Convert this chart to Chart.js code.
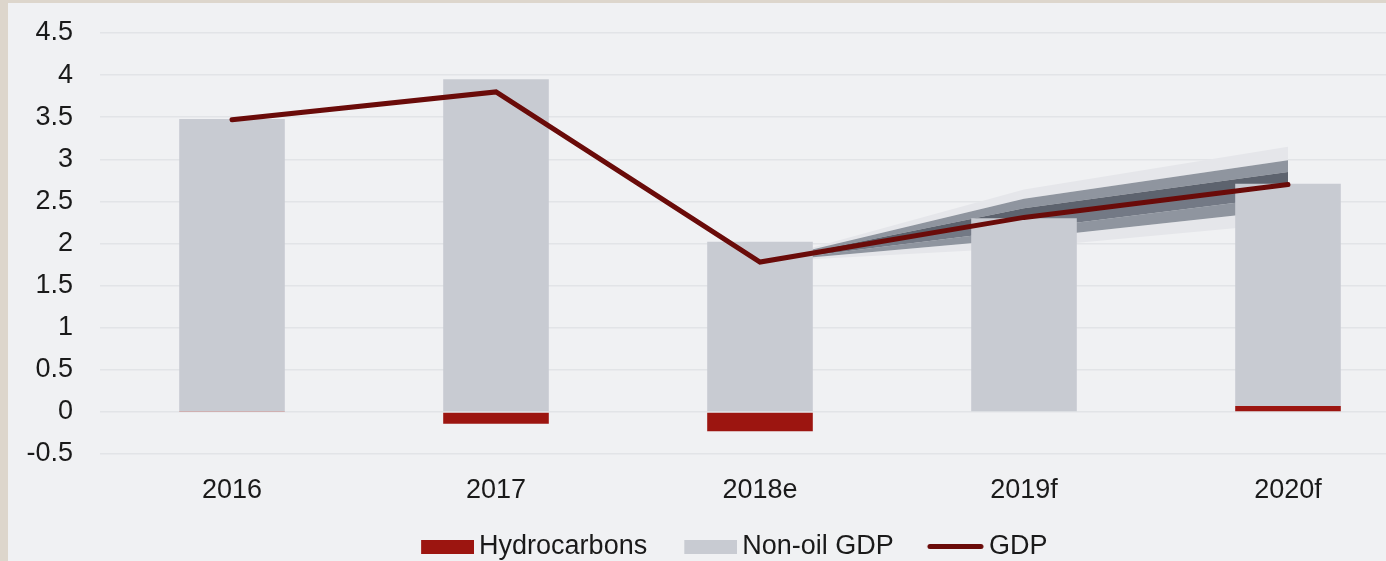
<!DOCTYPE html>
<html><head><meta charset="utf-8">
<script src="https://cdn.jsdelivr.net/npm/chart.js@4"></script>
<style>
html,body{margin:0;padding:0;background:#f0f1f3;overflow:hidden;width:1386px;height:561px;}
#wrap{position:absolute;left:0;top:0;width:1440px;height:570px;}
.strip-l{position:absolute;left:0;top:0;width:8px;height:561px;background:#ddd6cc;z-index:2}
.strip-t{position:absolute;left:0;top:0;width:1386px;height:3px;background:#ddd6cc;z-index:2}
</style></head><body>
<div id="wrap"><canvas id="c" width="1440" height="570"></canvas></div>
<div class="strip-l"></div><div class="strip-t"></div>
<script>
const categories = ['2016', '2017', '2018e', '2019f', '2020f'];
const hydrocarbons = [0.01, -0.14, -0.23, 0, 0.07];
const nonOilGdp = [3.47, 3.95, 2.02, 2.30, 2.64];
const gdp = [3.47, 3.80, 1.78, 2.31, 2.70];
const fanUpper3 = [null, null, 1.78, 2.64, 3.15];
const fanUpper2 = [null, null, 1.78, 2.53, 2.99];
const fanUpper1 = [null, null, 1.78, 2.42, 2.85];
const fanCentral = [null, null, 1.78, 2.31, 2.70];
const fanLower1 = [null, null, 1.78, 2.17, 2.56];
const fanLower2 = [null, null, 1.78, 2.06, 2.40];
const fanLower3 = [null, null, 1.78, 1.95, 2.24];
const yMin = -0.5, yMax = 4.5, yStep = 0.5;
const seriesNames = ['Hydrocarbons', 'Non-oil GDP', 'GDP'];

const C = {
  hydro: '#9c1510', nonoil: '#c8cbd2', gdp: '#6a0b09',
  light: '#e5e6ea', mid: '#8f959f', dark: '#5d636e', darkLow: '#737985',
  grid: '#e2e4e7', text: '#1a1a1a'
};
const FONT = 'Liberation Sans, Arial, Helvetica, sans-serif';

// legend swatches: 72px wide canvases, visible mark right-aligned
function swatchRect(color) {
  const c = document.createElement('canvas'); c.width = 72; c.height = 14;
  const x = c.getContext('2d'); x.fillStyle = color; x.fillRect(72 - 53, 0, 53, 14); return c;
}
function swatchLine(color) {
  const c = document.createElement('canvas'); c.width = 72; c.height = 7;
  const x = c.getContext('2d'); x.strokeStyle = color; x.lineWidth = 5; x.lineCap = 'round';
  x.beginPath(); x.moveTo(72 - 57 + 3, 3.5); x.lineTo(72 - 3, 3.5); x.stroke(); return c;
}
const swatches = [swatchRect(C.hydro), swatchRect(C.nonoil), swatchLine(C.gdp)];

let fanId = 0;
function fanDs(data, fillTarget, color) {
  return { type: 'line', data, order: 10, stack: 'fan' + (fanId++),
    borderWidth: 0, pointRadius: 0, tension: 0, backgroundColor: color,
    fill: fillTarget === null ? false : { target: fillTarget } };
}

const legendShift = {
  id: 'legendShift',
  afterLayout(chart) { if (chart.legend) { chart.legend.left += 19; chart.legend.right += 19; } }
};

new Chart(document.getElementById('c'), {
  data: {
    labels: categories,
    datasets: [
      { type: 'bar', label: seriesNames[0], data: hydrocarbons, backgroundColor: C.hydro, stack: 'bars', order: 5,
        barPercentage: 0.4, categoryPercentage: 1.0 },
      { type: 'bar', label: seriesNames[1], data: nonOilGdp, backgroundColor: C.nonoil, stack: 'bars', order: 5,
        barPercentage: 0.4, categoryPercentage: 1.0 },
      { type: 'line', label: seriesNames[2], data: gdp, borderColor: C.gdp, backgroundColor: C.gdp, borderWidth: 5,
        pointRadius: 0, tension: 0, stack: 'gdpline', order: 0, borderCapStyle: 'round', fill: false },
      fanDs(fanCentral, null, 'transparent'),
      fanDs(fanUpper1, 3, C.dark),
      fanDs(fanUpper2, 4, C.mid),
      fanDs(fanUpper3, 5, C.light),
      fanDs(fanLower1, 3, C.darkLow),
      fanDs(fanLower2, 7, C.mid),
      fanDs(fanLower3, 8, C.light)
    ]
  },
  plugins: [legendShift],
  options: {
    responsive: false, animation: false, devicePixelRatio: 1,
    layout: { padding: { left: 0, right: 20, top: 33, bottom: 0 } },
    scales: {
      x: { stacked: true, offset: true,
        grid: { display: false, drawTicks: false }, border: { display: false },
        ticks: { padding: 20, color: C.text, font: { family: FONT, size: 27 } },
        afterFit(s) { s.height = 52.4; } },
      y: { stacked: true, min: yMin, max: yMax,
        grid: { color: C.grid, lineWidth: 1.5, drawTicks: true, tickLength: 27, tickColor: 'rgba(0,0,0,0)' },
        border: { display: false },
        ticks: { stepSize: yStep, padding: 0, color: C.text, font: { family: FONT, size: 27 },
          callback: v => String(Math.round(v * 10) / 10) },
        afterFit(s) { s.width = 100; } }
    },
    plugins: {
      tooltip: { enabled: false },
      legend: { position: 'bottom',
        labels: { usePointStyle: true, pointStyleWidth: 55, boxHeight: 14, padding: 26.6,
          color: C.text, font: { family: FONT, size: 27 },
          generateLabels(chart) {
            const items = Chart.defaults.plugins.legend.labels.generateLabels(chart);
            return items.filter(i => i.datasetIndex < 3)
              .sort((a, b) => a.datasetIndex - b.datasetIndex)
              .map(i => { i.pointStyle = swatches[i.datasetIndex]; return i; });
          } } }
    }
  }
});
</script></body></html>
